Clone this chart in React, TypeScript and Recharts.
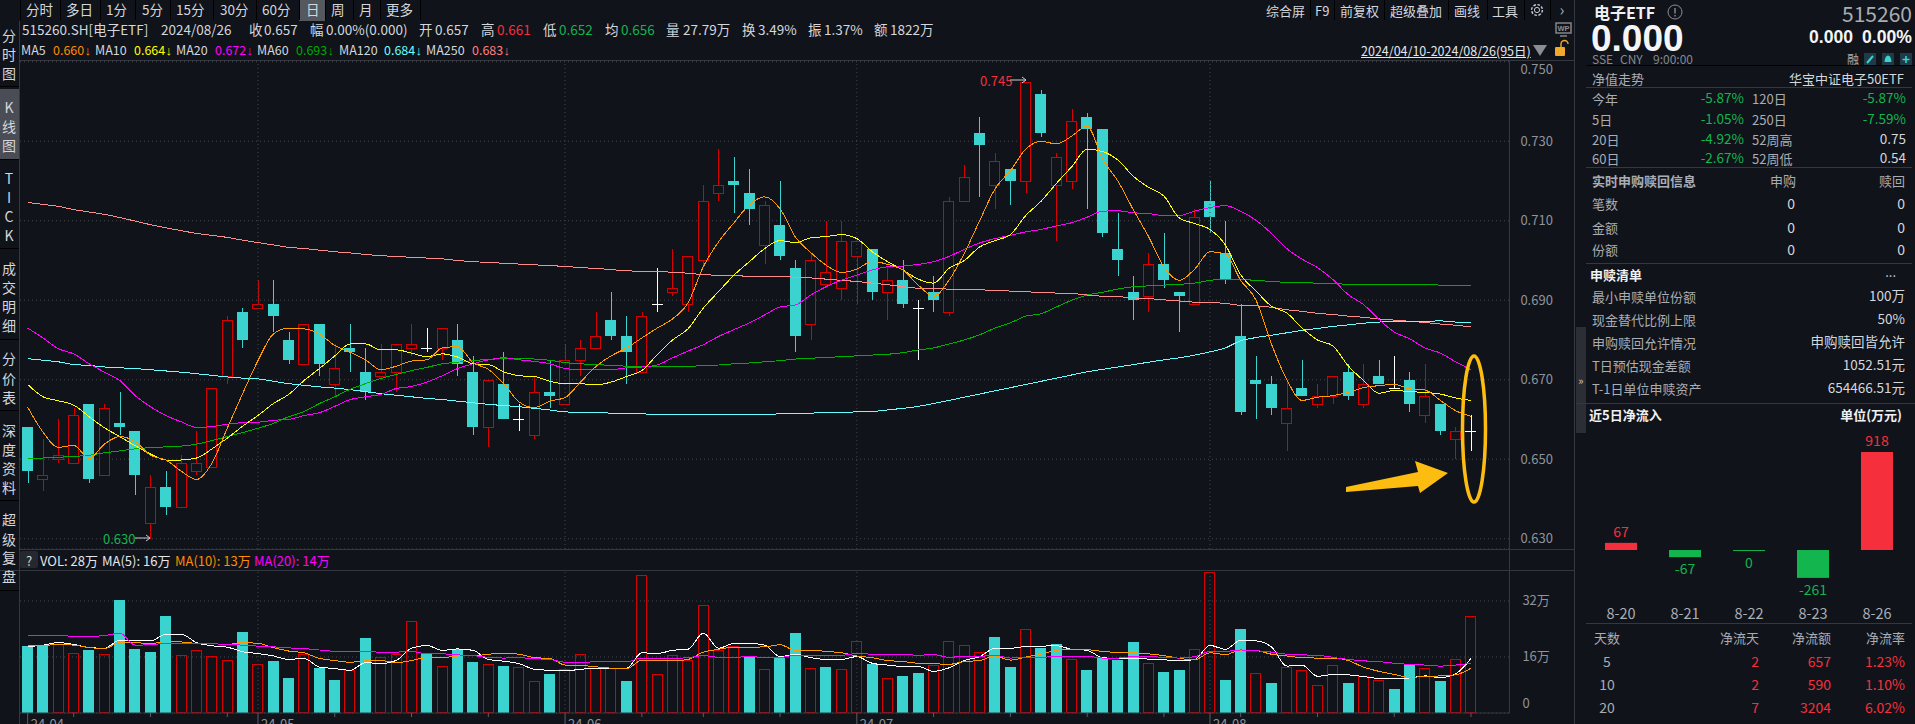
import React from 'react';
import { ComposedChart, BarChart, Bar, Line, XAxis, YAxis, CartesianGrid, ReferenceLine } from 'recharts';

const FONT = '"Noto Sans CJK SC", "Noto Sans", sans-serif';
const BG = '#10131a';
const LINE = '#34373d';
const RED = '#d60000';
const CYAN = '#3ad3d0';
const UP = '#f5303c';
const DOWN = '#12b54e';

// prices in 1/1000 yuan
const opens = [658,645,650,649,664,646,659,657,634,643,638,647,648,671,687,688,689,680,674,684,669,678,672,671,672,678,678,678,680,672,658,669,660,656,667,664,675,678,685,681,672,689,692,689,700,717,720,717,704,709,698,684,694,693,701,703,692,695,688,692,687,715,732,719,723,720,742,719,720,736,733,703,692,691,699,692,689,715,702,681,670,669,659,668,664,666,672,664,671,668,670,661,664,655,657];
const closes = [647,646,651,661,645,663,658,646,643,638,649,649,668,685,680,689,686,675,684,674,673,677,667,672,679,679,678,683,674,658,670,660,660,667,666,675,678,681,681,677,686,689,693,701,715,719,719,713,714,701,681,700,697,705,705,692,695,689,688,690,715,721,729,725,720,745,732,726,735,733,707,700,690,699,695,691,711,711,695,662,669,663,663,666,666,671,666,669,669,668,664,666,657,657,657];
const highs = [658,655,660,663,664,664,667,657,646,647,651,657,668,686,688,695,695,682,684,684,679,684,678,679,679,684,683,683,684,676,670,677,664,671,675,679,680,687,692,686,687,698,703,701,719,728,726,723,715,720,700,702,710,710,705,703,698,700,690,696,716,724,736,727,723,745,743,727,738,737,733,712,696,702,707,692,713,720,710,689,676,671,670,675,669,671,674,674,675,676,672,674,664,658,661];
const lows = [644,642,649,649,644,646,656,641,630,636,638,646,648,669,678,688,682,674,674,671,666,672,665,670,667,676,677,675,671,656,653,660,657,655,663,664,671,678,680,669,672,687,691,687,698,715,712,709,699,700,677,680,693,690,689,690,685,688,675,687,686,715,716,713,714,717,731,705,718,713,706,696,685,687,693,682,689,707,694,661,660,661,652,666,663,664,665,663,669,668,662,659,656,650,652];

const ma5 = [663.1,656.8,653,653.5,650.2,653.8,655.7,654.4,651,649.8,647,644.9,649,657.8,666.5,674.8,681.5,683,682.8,681.5,678.6,676.9,675,672.5,673.4,674.7,675,678,678.3,674.3,672.6,669,664.4,663,664.6,665.5,669.4,673.3,676,678,680.5,683,685.3,689.3,698.4,704.7,709.5,714,716,713,705.9,702,698.8,697,697.8,699.8,699,697.6,693.8,691,695,701.8,710,718,722.6,728,730,729.3,731.3,733.8,725.5,720,712.8,706,698.4,695,697.8,702.2,701.6,695,690,679,670,664.8,665.6,666,666.8,668,668.5,668.8,667.7,667.4,664.8,662.2,660.8];
const ma10 = [668.8,665.7,664.7,663.6,660.7,657.9,655.7,653.4,651.3,649.8,649.8,650.3,652.6,655.3,658.3,661,664,666.3,669.8,672.8,676,679,679,677.5,677.5,676.7,675.8,676.5,675.7,674,673.8,672,671,670.8,669.6,669,669,668.7,669.4,670.8,672.3,676.3,680,682.8,688,692.2,696.3,699.7,703,705,704.5,705.7,706,706.5,705.5,702.2,699.7,697.6,695.3,694.3,698,700,703.4,705,706.5,711.3,714.9,719.4,723.6,728,727.4,725.3,721.2,718.4,716.2,710.7,709.3,707.8,703.9,696.4,692.3,688.5,686.8,683,680,678.5,673.5,669.8,666.6,667.3,667,666.8,666.4,665.4,664.8];
const ma20 = [683,680.5,677.8,676.5,674,671.9,669.8,666,663.2,661,659.4,658,658.2,658.8,659.2,659.3,659.8,660,661,661.7,663.3,665,665.7,666.3,667.8,668.3,669.4,671,672.8,674,675,675.5,675,674.6,674,672.8,672.5,672.5,672.5,673,673.2,673.7,675.5,677.2,678.8,680.9,682.6,684.3,686.3,688.3,688.8,691.3,693.4,695,696.3,697.6,698.4,698.6,699,699.7,701,702.8,704.4,705.5,706.3,707.2,707.8,708.7,709.5,710.9,712.4,712.5,712,711.8,711.3,711.3,712.4,713.3,713.8,712.4,710.1,706.8,703,700.3,698.2,695.2,691.4,688.9,685.2,682,680.3,678,676.7,674.5,672.5];
const ma60 = [650.2,650.3,650.5,650.7,651,651.6,652.1,652.6,652.9,653.1,653.3,653.8,654.7,655.7,656.7,657.8,659,660.7,662,664,665.7,667.6,669,670.3,671.3,672.3,673.1,674,674.4,674.8,675.1,675.3,675.3,675.2,674.9,674.3,674,673.8,673.6,673.4,673.2,673.2,673.3,673.4,673.5,673.7,674,674.2,674.5,674.8,675.2,675.4,675.6,675.8,676,676.2,676.4,676.8,677.5,678,679,680,681.3,683,684.3,686,686.6,688.3,690,691.3,692,692.8,693.4,693.6,693.8,694,694.3,695,695.3,695.2,695,694.7,694.5,694.4,694.3,694.2,694,693.9,693.9,693.9,693.9,693.9,693.8,693.6,693.6];
const ma120 = [675.3,674.9,674.5,673.8,673.6,673.2,673,672.8,672.5,672.2,671.9,671.5,671.1,670.7,670.4,670.2,669.6,669,668.6,668.2,667.9,667.5,667,666.5,666.1,665.7,665.3,665,664.6,664.2,663.8,663.5,663.2,662.8,662.4,661.9,661.8,661.7,661.6,661.5,661.4,661.3,661.3,661.3,661.3,661.3,661.3,661.3,661.3,661.4,661.5,661.6,661.7,661.8,661.9,662,662.4,662.8,663.3,664,664.8,665.6,666.4,667.2,668,668.8,669.6,670.4,671.2,672,672.6,673.2,673.8,674.4,675,675.5,676.2,677,678,679.8,680.6,681.2,681.8,682.4,682.9,683.4,683.8,684.2,684.5,684.6,684.7,684.7,684.8,684.5,684.3];
const ma250 = [714.6,714.1,713.6,712.8,712.2,711.6,710.8,709.9,709,708.2,707.5,706.8,706.3,705.8,705.1,704.5,703.9,703.3,703,702.6,702.2,701.9,701.5,701.2,701,700.8,700.6,700.4,700,699.7,699.5,699.3,699.1,698.9,698.7,698.5,698.2,698,697.7,697.4,697.3,697.3,697,696.8,696.4,696.3,696.2,696,695.9,695.9,695.8,695.6,695.3,695,694.7,694.3,693.9,693.4,693,692.9,692.8,692.7,692.6,692.5,692.3,692.1,692,691.8,691.7,691.3,691,690.9,690.6,690.4,690.1,689.8,689.5,689.4,689.2,688.7,688.6,688.2,687.6,687.2,686.7,686.4,686,685.7,685.3,685,684.7,684.4,684,683.7,683.3];

// volume in 万
const vols = [19,19.1,19.6,17,18,16.8,32.3,18.3,17.4,27.7,16.5,17.9,16.2,15,23.1,13.9,14.9,10,16.8,12.9,9.4,12.2,21.4,15.9,16.8,26.2,17.1,13.3,18.3,14.6,13.9,13.4,13,9,11.1,12.5,16.8,12.8,12.9,9.1,39.3,11.2,16.5,15.2,30.8,18,19,16.1,12.5,15.8,22.9,12.8,13.1,12.5,20.5,14,9.9,10.6,11.4,13.6,20.5,19.3,17.3,21.7,13.1,23.9,18.6,19.7,15.3,12.3,15.6,15.1,20.3,14.2,11.7,12.3,18.2,40.2,9.4,24,11.3,8.6,13,12.2,7.9,13.6,8.6,10.5,9.3,6.9,13.7,12.8,9.1,15.3,27.8];
const volDirs = ('ccrrcrcccc' + 'rrrrcrccrc' + 'crcrrrcrcc' + 'rcrrcrrrrc' + 'rrrrrrrcrc' + 'crcrrcrccr' + 'rrrccrccrc' + 'cccrccrrcc' + 'rcrrrrcrrc' + 'crcrr').split('');
const volMa5 = [18.9,19.4,20.1,19.6,18.7,18.5,20.8,20.6,20.6,22.5,22.5,20.1,19.2,18.8,17.5,17,16.3,15.3,15.6,13.1,12.7,12.2,14.4,14.1,15,18.5,19.3,17.9,18.3,17.9,15.3,14.8,14.1,12.5,12.2,12,12.5,12.7,12.8,12.8,17.2,17,17.9,18.2,22.8,18.5,19.9,19.9,19.4,16.1,16.8,15.8,15.3,15.3,16.1,14.2,13.7,13.3,13.3,11.9,12.9,15,16.1,18.5,18.5,19,19.1,19.2,18.2,17.9,15.8,15.6,15.6,15.4,15.2,14.9,15.3,19.3,18.2,20.8,20.6,18.9,13.4,13.7,10.5,11,10.9,10.4,9.9,9.9,10,10.6,10.1,11.2,15.6];
const volMa10 = [19.3,19.3,19.6,19.4,18.7,18.4,20.1,20.1,19.8,20.4,20.3,19.9,19.8,19.6,20.1,19.9,18.7,17.7,17.2,15.6,15,14.5,14.9,15,14.4,15,15.8,15.8,16.3,16.3,16.8,17,16.8,15.8,15.6,13.7,13.6,13.2,12.8,12.6,15.1,14.9,14.9,15.3,17.4,18.2,18.8,18.8,18.9,19.5,17.9,17.9,17.6,17.2,16.3,15.8,15,14.7,14.2,14.1,13.9,14.7,15,16.3,15.1,16,16.8,17.9,18.2,18.1,17.6,17.3,17.2,16.9,16.4,15.6,15.2,17.2,16.7,17.9,17.8,16.8,16.3,15.8,15.7,15.7,15,13.1,11.9,11,10.2,10.4,10.6,10.9,12.8];
const volMa20 = [22.2,22.2,22.2,21.9,21.9,22.1,22.8,19.4,19.5,19.9,19.8,19.8,19.8,19.5,19.4,19.1,18.9,18.6,18.4,18,17.6,17.5,17.5,17.4,17.4,17.6,16.9,16.9,16.6,16.4,15.9,15.7,15.8,15.5,15.3,14.5,14.5,14.6,14.6,14.6,15.7,15.6,15.6,15.8,16.4,15.9,15.9,16.1,15.9,15.9,16.5,16.5,16.5,16.5,17,16.8,16.7,16.7,16.5,16.7,15.9,16.2,16.2,16.5,15.7,15.9,15.9,16.2,16.2,16.2,15.7,15.7,16.1,16.1,15.9,15.7,16.1,17.6,17.6,18,17.8,17.4,16.8,16.6,16.5,15.9,15.3,14.9,14.7,14.2,13.9,13.7,13.4,13.7,14.2];

const monthStarts = [0, 15, 35, 54, 77];
const monthLabels = ['24-04', '24-05', '24-06', '24-07', '24-08'];
const xTicks = [0, 3, 8, 13, 15, 20, 25, 30, 35, 40, 44, 49, 54, 59, 64, 69, 74, 77, 79, 84, 89, 94];
const priceTicks = [0.63, 0.65, 0.67, 0.69, 0.71, 0.73, 0.75];
const volTicks = [0, 16, 32];

const flowDates = ['8-20', '8-21', '8-22', '8-23', '8-26'];
const flowValues = [67, -67, 0, -261, 918];

const rows = opens.map((o, i) => ({
  i,
  open: o / 1000,
  close: closes[i] / 1000,
  high: highs[i] / 1000,
  low: lows[i] / 1000,
  range: [lows[i] / 1000, highs[i] / 1000],
  ma5: ma5[i] / 1000,
  ma10: ma10[i] / 1000,
  ma20: ma20[i] / 1000,
  ma60: ma60[i] / 1000,
  ma120: ma120[i] / 1000,
  ma250: ma250[i] / 1000,
  vol: vols[i],
  dir: volDirs[i],
  volMa5: volMa5[i],
  volMa10: volMa10[i],
  volMa20: volMa20[i],
}));
const flowRows = flowDates.map((d, i) => ({ d, v: flowValues[i] }));

const T = ({ x, y, c = '#c9cdd3', s = 13, a = 'left', b = false, f = FONT, children }: any) => (
  <div style={{
    position: 'absolute', top: y,
    left: a === 'left' ? x : a === 'center' ? 0 : undefined,
    right: a === 'right' ? 1915 - x : undefined,
    transform: a === 'center' ? `translate(calc(${x}px - 50%),-50%)` : 'translateY(-50%)', color: c, fontSize: s,
    fontWeight: b ? 700 : 400, whiteSpace: 'nowrap', lineHeight: 1, fontFamily: f,
  }}>{children}</div>
);

const Candle = (props: any) => {
  const { x, y, width, height, payload } = props;
  const { open, close, high, low } = payload;
  const py = (v: number) => y + ((high - v) / (high - low)) * height;
  const cx = Math.round(x + width / 2) + 0.5;
  const top = Math.round(py(Math.max(open, close)));
  const bot = Math.round(py(Math.min(open, close)));
  const l = Math.round(x);
  const wick = open === close ? '#ffffff' : close > open ? RED : CYAN;
  return (
    <g shapeRendering="crispEdges">
      <line x1={cx} x2={cx} y1={y} y2={top} stroke={wick} />
      <line x1={cx} x2={cx} y1={bot} y2={y + height} stroke={wick} />
      {open === close && <line x1={l} x2={l + 11} y1={top + 0.5} y2={top + 0.5} stroke="#fff" />}
      {close > open && <rect x={l + 0.5} y={top + 0.5} width={10} height={bot - top} fill={BG} stroke={RED} />}
      {close < open && <rect x={l} y={top} width={11} height={bot - top} fill={CYAN} />}
    </g>
  );
};

const VolBar = (props: any) => {
  const { x, y, width, height, payload } = props;
  const l = Math.round(x);
  if (payload.dir === 'r') {
    return <rect x={l + 0.5} y={Math.round(y) + 0.5} width={10} height={height - 1} fill="none" stroke={RED} shapeRendering="crispEdges" />;
  }
  return <rect x={l} y={y} width={11} height={height} fill={CYAN} shapeRendering="crispEdges" />;
};

const VolAxisTick = ({ x, y, payload }: any) => (
  <text x={x + 5} y={payload.value === 0 ? y - 5 : y + 4} fill="#8f949b" fontSize={13} fontFamily={FONT}>
    {payload.value === 0 ? '0' : `${payload.value}万`}
  </text>
);

const TimeTick = ({ x, y, payload }: any) => {
  const m = monthStarts.indexOf(payload.value);
  return (
    <g>
      <line x1={x} x2={x} y1={y} y2={m >= 0 ? y + 14 : y + 4} stroke="#5b5f66" />
      {m >= 0 && <text x={x + 3} y={y + 16} fill="#8f949b" fontSize={13} fontFamily={FONT}>{monthLabels[m]}</text>}
    </g>
  );
};

const FlowBar = (props: any) => {
  const { x, y, width, height, payload } = props;
  const v = payload.v;
  const top = Math.min(y, y + height);
  const h = Math.max(Math.abs(height), 1);
  const col = v > 0 ? UP : DOWN;
  const cx = x + width / 2;
  return (
    <g>
      <rect x={x} y={top} width={width} height={h} fill={col} />
      <text x={cx} y={v > 0 ? top - 6 : top + h + 17} fill={col} fontSize={14} textAnchor="middle" fontFamily={FONT}>{v}</text>
    </g>
  );
};

const PLOT_LEFT = 19.6;
const CHART_W = 1560;
const AXIS_W = CHART_W - (1509 - PLOT_LEFT);
const RIGHT_PAD = 30.7;

const tabs: [string, number][] = [['分时', 26], ['多日', 66], ['1分', 106], ['5分', 142], ['15分', 176], ['30分', 220], ['60分', 262], ['日', 306], ['周', 331], ['月', 359], ['更多', 386]];
const tools: [string, number][] = [['综合屏', 1266], ['F9', 1315], ['前复权', 1340], ['超级叠加', 1390], ['画线', 1454], ['工具', 1492]];
const nav: [string, number][] = [['分', 35], ['时', 54], ['图', 73], ['K', 107], ['线', 126], ['图', 145], ['T', 178], ['I', 197], ['C', 216], ['K', 235], ['成', 268], ['交', 287], ['明', 306], ['细', 325], ['分', 358], ['价', 378], ['表', 397], ['深', 430], ['度', 449], ['资', 468], ['料', 487], ['超', 519], ['级', 539], ['复', 557], ['盘', 576]];
const navLines = [86, 159, 248, 339, 410, 500, 590];
const info: [string, string, number][] = [['515260.SH[电子ETF]', '#d4d7dc', 22], ['2024/08/26', '#d4d7dc', 161], ['收', '#d4d7dc', 249], ['0.657', '#d4d7dc', 264], ['幅', '#d4d7dc', 310], ['0.00%(0.000)', '#d4d7dc', 326], ['开', '#d4d7dc', 419], ['0.657', '#d4d7dc', 435], ['高', '#d4d7dc', 481], ['0.661', UP, 497], ['低', '#d4d7dc', 543], ['0.652', DOWN, 559], ['均', '#d4d7dc', 605], ['0.656', DOWN, 621], ['量', '#d4d7dc', 666], ['27.79万', '#d4d7dc', 683], ['换', '#d4d7dc', 742], ['3.49%', '#d4d7dc', 758], ['振', '#d4d7dc', 808], ['1.37%', '#d4d7dc', 824], ['额', '#d4d7dc', 874], ['1822万', '#d4d7dc', 890]];
const maLegend: [string, string, number][] = [['MA5', '#d4d7dc', 21], ['0.660', '#ff8c00', 53], ['MA10', '#d4d7dc', 95], ['0.664', '#ffff00', 134], ['MA20', '#d4d7dc', 176], ['0.672', '#ff00ff', 215], ['MA60', '#d4d7dc', 257], ['0.693', '#00a800', 296], ['MA120', '#d4d7dc', 339], ['0.684', '#66ffff', 384], ['MA250', '#d4d7dc', 426], ['0.683', '#ff7f7f', 472]];
const navRows: [string, string, string, string, number][] = [['今年', '-5.87%', '120日', '-5.87%', 98], ['5日', '-1.05%', '250日', '-7.59%', 119], ['20日', '-4.92%', '52周高', '0.75', 139], ['60日', '-2.67%', '52周低', '0.54', 158]];
const subRows: [string, number][] = [['笔数', 203], ['金额', 227], ['份额', 249]];
const listRows: [string, string, number][] = [['最小申赎单位份额', '100万', 296], ['现金替代比例上限', '50%', 319], ['申购赎回允许情况', '申购赎回皆允许', 342], ['T日预估现金差额', '1052.51元', 365], ['T-1日单位申赎资产', '654466.51元', 388]];
const flowTable: [string, string, string, string, number][] = [['5', '2', '657', '1.23%', 661], ['10', '2', '590', '1.10%', 684], ['20', '7', '3204', '6.02%', 707]];

const HLine = ({ x1, x2, y, c = LINE }: any) => <div style={{ position: 'absolute', left: x1, width: x2 - x1, top: y, height: 1, background: c }} />;
const VLine = ({ x, y1, y2, c = LINE }: any) => <div style={{ position: 'absolute', left: x, top: y1, height: y2 - y1, width: 1, background: c }} />;

const crisp = { strokeWidth: 1, dot: false, type: 'monotone', isAnimationActive: false } as any;

export default function App() {
  return (
    <div style={{ position: 'fixed', left: 0, top: 0, width: 1915, height: 724, background: BG, overflow: 'hidden', fontFamily: FONT }}>
      <style>{'.recharts-line-curve{shape-rendering:crispEdges}'}</style>
      {/* price panel */}
      <div style={{ position: 'absolute', left: PLOT_LEFT, top: 61 }}>
        <ComposedChart width={CHART_W} height={488} data={rows} margin={{ top: 0, right: 0, bottom: 0, left: 0 }}>
          <CartesianGrid horizontal vertical={false} stroke="#44474e" strokeDasharray="1 3" />
          <XAxis dataKey="i" type="category" hide padding={{ left: 0, right: RIGHT_PAD }} />
          <YAxis orientation="right" width={AXIS_W} domain={[0.62741, 0.75018]} ticks={priceTicks} allowDataOverflow
            tickFormatter={(v: number) => v.toFixed(3)} tick={{ fill: '#8f949b', fontSize: 13, fontFamily: FONT }}
            tickLine={false} tickMargin={5} axisLine={{ stroke: LINE }} />
          {monthStarts.slice(1).map((m) => <ReferenceLine key={m} x={m} stroke="#44474e" strokeDasharray="1 3" />)}
          <Bar dataKey="range" barSize={11} shape={Candle} isAnimationActive={false} />
          <Line dataKey="ma250" stroke="#ff8a8a" {...crisp} />
          <Line dataKey="ma120" stroke="#66ffff" {...crisp} />
          <Line dataKey="ma60" stroke="#00b000" {...crisp} />
          <Line dataKey="ma20" stroke="#ff00ff" {...crisp} />
          <Line dataKey="ma10" stroke="#ffff00" {...crisp} />
          <Line dataKey="ma5" stroke="#ff9a00" {...crisp} />
        </ComposedChart>
      </div>
      {/* volume panel */}
      <div style={{ position: 'absolute', left: PLOT_LEFT, top: 570.5 }}>
        <ComposedChart width={CHART_W} height={153.5} data={rows} margin={{ top: 0, right: 0, bottom: 0, left: 0 }}>
          <CartesianGrid horizontal vertical={false} stroke="#44474e" strokeDasharray="1 3" syncWithTicks />
          <XAxis dataKey="i" type="category" height={11.5} ticks={xTicks} interval={0} padding={{ left: 0, right: RIGHT_PAD }}
            tick={TimeTick} tickLine={false} tickSize={0} tickMargin={0} axisLine={{ stroke: LINE }} />
          <YAxis orientation="right" width={AXIS_W} domain={[0, 40.57]} ticks={volTicks} allowDataOverflow
            tick={VolAxisTick} tickLine={false} axisLine={{ stroke: LINE }} />
          {monthStarts.slice(1).map((m) => <ReferenceLine key={m} x={m} stroke="#44474e" strokeDasharray="1 3" />)}
          <Bar dataKey="vol" barSize={11} shape={VolBar} isAnimationActive={false} />
          <Line dataKey="volMa5" stroke="#ffffff" {...crisp} />
          <Line dataKey="volMa10" stroke="#ff9a00" {...crisp} />
          <Line dataKey="volMa20" stroke="#ff00ff" {...crisp} />
        </ComposedChart>
      </div>

      {/* frame */}
      <HLine x1={19} x2={1575} y={60} />
      <HLine x1={19} x2={1575} y={549} />
      <HLine x1={0} x2={1575} y={570} />
      <VLine x={19} y1={21} y2={724} />
      <VLine x={1574} y1={0} y2={724} />
      <VLine x={1509} y1={60} y2={713} />

      {/* toolbar */}
      <div style={{ position: 'absolute', left: 299, top: 0, width: 26, height: 21, background: '#55585f' }} />
      {tabs.map(([t, x]) => <T key={t} x={x} y={10} s={13.5} c="#d4d7dc">{t}</T>)}
      {tools.map(([t, x]) => <T key={t} x={x} y={10} s={13} c="#d4d7dc">{t}</T>)}
      {[20, 60, 100, 135, 170, 213, 256, 299, 325, 353, 380, 420, 1310, 1334, 1384, 1448, 1487, 1524, 1550].map((x) => <VLine key={x} x={x} y1={0} y2={20} c="#000" />)}
      <T x={1562} y={9} s={16} a="center" c="#aaa">›</T>
      <svg style={{ position: 'absolute', left: 1530, top: 3, width: 14, height: 14 }} viewBox="0 0 14 14">
        <circle cx="7" cy="7" r="2.6" fill="none" stroke="#c9cdd3" />
        <circle cx="7" cy="7" r="5.4" fill="none" stroke="#c9cdd3" strokeDasharray="2.6 1.6" strokeWidth="1.4" />
      </svg>

      {info.map(([t, c, x], i) => <T key={i} x={x} y={30} s={13.5} c={c}>{t}</T>)}
      {maLegend.map(([t, c, x], i) => <T key={i} x={x} y={50} s={12.5} c={c}>{t}</T>)}
      {maLegend.filter((_, i) => i % 2 === 1).map(([t, c, x], i) => <T key={i} x={x + 31.5} y={50} s={13} c={c} f="Liberation Sans">↓</T>)}
      <div style={{ position: 'absolute', left: 1361, top: 43, fontSize: 12.5, color: '#e4e6ea', textDecoration: 'underline', whiteSpace: 'nowrap', lineHeight: '16px' }}>2024/04/10-2024/08/26(95日)</div>
      <svg style={{ position: 'absolute', left: 1530, top: 20, width: 45, height: 40 }} viewBox="0 0 45 40">
        <path d="M3 25 L17 25 L10 36 Z" fill="#8a8d93" />
        <rect x="25" y="27" width="10" height="9" rx="1" fill="#f0a92a" />
        <path d="M31 27 v-3 a3.5 3.5 0 0 1 7 0" fill="none" stroke="#f0a92a" strokeWidth="1.4" />
        <rect x="26" y="3" width="15" height="10" fill="none" stroke="#8a8d93" strokeWidth="1.4" />
        <text x="33.5" y="11" fontSize="7.5" fontWeight="700" fill="#8a8d93" textAnchor="middle" fontFamily="Liberation Sans">WP</text>
        <path d="M30 16 h7" stroke="#8a8d93" strokeWidth="1.4" />
      </svg>

      {/* left nav */}
      <div style={{ position: 'absolute', left: 0, top: 89, width: 19, height: 70, background: '#4a4d55' }} />
      {navLines.map((y) => <HLine key={y} x1={0} x2={19} y={y} c="#000" />)}
      {nav.map(([t, y], i) => <T key={i} x={9} y={y} s={14} a="center" c="#d4d7dc">{t}</T>)}

      {/* volume legend */}
      <div style={{ position: 'absolute', left: 20, top: 551, width: 18, height: 17, background: '#25282e', borderRadius: 2 }} />
      <T x={29} y={560} a="center" c="#d4d7dc">?</T>
      <T x={40} y={560} c="#e4e6ea">VOL: 28万</T>
      <T x={102} y={560} c="#e4e6ea">MA(5): 16万</T>
      <T x={175} y={560} c="#ff8c00">MA(10): 13万</T>
      <T x={254} y={560} c="#ff00ff">MA(20): 14万</T>

      {/* high / low labels and hand-drawn marks */}
      <T x={980} y={80} c={UP}>0.745</T>
      <T x={103} y={538} c={DOWN}>0.630</T>
      <svg style={{ position: 'absolute', left: 0, top: 0, width: 1915, height: 724, pointerEvents: 'none' }}>
        <path d="M1010 80 H1026 M1022 77 L1026 80 L1022 83" stroke="#c9cdd3" fill="none" />
        <path d="M135 538 H150 M146 535 L150 538 L146 541" stroke="#c9cdd3" fill="none" />
        <ellipse cx={1474} cy={429} rx={11.5} ry={73} fill="none" stroke="#fdbd10" strokeWidth={3.5} />
        <path d="M1346 487 L1418 472 L1415 461 L1448 473 L1420 493 L1418 486 L1346 492 Z" fill="#fdbd10" />
      </svg>

      {/* right panel */}
      <div style={{ position: 'absolute', left: 1576, top: 327, width: 10, height: 106, background: '#2b2e34' }} />
      <T x={1581} y={380} s={11} a="center" c="#c9cdd3">»</T>
      <T x={1594} y={12} s={16} b c="#f0f1f3">电子ETF</T>
      <svg style={{ position: 'absolute', left: 1667, top: 4, width: 16, height: 16 }} viewBox="0 0 16 16">
        <circle cx="8" cy="8" r="7" fill="none" stroke="#8a8d93" />
        <path d="M8 4 V9.5 M8 11 V12.5" stroke="#8a8d93" strokeWidth="1.4" />
      </svg>
      <T x={1912} y={13} s={21} a="right" c="#a9adb3">515260</T>
      <div style={{ position: 'absolute', left: 1591, top: 25, fontSize: 37, lineHeight: '27px', fontWeight: 700, color: '#f4f5f6', fontFamily: 'Liberation Sans' }}>0.000</div>
      <div style={{ position: 'absolute', left: 1809, top: 27, fontSize: 17.6, lineHeight: '20px', fontWeight: 700, color: '#f4f5f6', fontFamily: 'Liberation Sans' }}>0.000</div>
      <div style={{ position: 'absolute', left: 1862, top: 27, fontSize: 17.6, lineHeight: '20px', fontWeight: 700, color: '#f4f5f6', fontFamily: 'Liberation Sans' }}>0.00%</div>
      <T x={1592} y={59} s={12} c="#858a91">SSE</T>
      <T x={1620} y={59} s={12} c="#858a91">CNY</T>
      <T x={1653} y={59} s={12} c="#858a91">9:00:00</T>
      <T x={1847} y={59} s={12} c="#a9adb3">融</T>
      <svg style={{ position: 'absolute', left: 1864, top: 53, width: 48, height: 13 }} viewBox="0 0 48 13">
        <rect x="0" y="0" width="12" height="12" fill="#1e3b47" />
        <path d="M3 10 L9 3" stroke={CYAN} strokeWidth="2" />
        <rect x="18" y="0" width="12" height="12" fill="#1e3b47" />
        <path d="M20.5 9 Q21 2.5 24 2.5 Q27 2.5 27.5 9 Z" fill={CYAN} />
        <rect x="36" y="0" width="12" height="12" fill="#1e3b47" />
        <path d="M42 3 V10 M38.5 6.5 H45.5" stroke={CYAN} strokeWidth="1.6" />
      </svg>
      <HLine x1={1586} x2={1915} y={65} c="#000" />
      <T x={1592} y={78} c="#a9adb3">净值走势</T>
      <T x={1904} y={78} a="right" c="#d4d7dc">华宝中证电子50ETF</T>
      <HLine x1={1586} x2={1912} y={87} />
      {navRows.map(([a, b, c, d, y]) => (
        <React.Fragment key={a}>
          <T x={1592} y={y} c="#a9adb3">{a}</T>
          <T x={1744} y={y} s={13.5} a="right" c={DOWN}>{b}</T>
          <T x={1752} y={y} c="#a9adb3">{c}</T>
          <T x={1906} y={y} s={13.5} a="right" c={d.startsWith('-') ? DOWN : '#d4d7dc'}>{d}</T>
        </React.Fragment>
      ))}
      <HLine x1={1586} x2={1912} y={167} />
      <T x={1592} y={180} b c="#a9adb3">实时申购赎回信息</T>
      <T x={1796} y={180} a="right" c="#a9adb3">申购</T>
      <T x={1905} y={180} a="right" c="#a9adb3">赎回</T>
      {subRows.map(([t, y]) => (
        <React.Fragment key={t}>
          <T x={1592} y={y} c="#a9adb3">{t}</T>
          <T x={1795} y={y} s={14} a="right" c="#d4d7dc">0</T>
          <T x={1905} y={y} s={14} a="right" c="#d4d7dc">0</T>
        </React.Fragment>
      ))}
      <HLine x1={1586} x2={1912} y={263} />
      <T x={1590} y={274} b c="#f0f1f3">申赎清单</T>
      <T x={1896} y={271} a="right" c="#c9cdd3">...</T>
      {listRows.map(([a, b, y]) => (
        <React.Fragment key={a}>
          <T x={1592} y={y} c="#a9adb3">{a}</T>
          <T x={1905} y={y} s={13.5} a="right" c="#d4d7dc">{b}</T>
        </React.Fragment>
      ))}
      <HLine x1={1576} x2={1915} y={403} />
      <T x={1589} y={414} b c="#f0f1f3">近5日净流入</T>
      <T x={1902} y={414} a="right" b c="#f0f1f3">单位(万元)</T>
      <div style={{ position: 'absolute', left: 1589, top: 432 }}>
        <BarChart width={320} height={192} data={flowRows} margin={{ top: 0, right: 0, bottom: 0, left: 0 }}>
          <XAxis dataKey="d" height={24} axisLine={false} tickLine={false} interval={0} tickMargin={3}
            tick={{ fill: '#a9aeb5', fontSize: 14.5, fontFamily: FONT }} />
          <YAxis hide domain={[-468, 1105]} allowDataOverflow />
          <Bar dataKey="v" barSize={32} shape={FlowBar} isAnimationActive={false} />
        </BarChart>
      </div>
      <HLine x1={1586} x2={1912} y={623} />
      <T x={1594} y={637} c="#a9adb3">天数</T>
      <T x={1759} y={637} a="right" c="#a9adb3">净流天</T>
      <T x={1831} y={637} a="right" c="#a9adb3">净流额</T>
      <T x={1905} y={637} a="right" c="#a9adb3">净流率</T>
      {flowTable.map(([a, b, c, d, y]) => (
        <React.Fragment key={a}>
          <T x={1607} y={y} s={14} a="center" c="#a9adb3">{a}</T>
          <T x={1759} y={y} s={14} a="right" c={UP}>{b}</T>
          <T x={1831} y={y} s={14} a="right" c={UP}>{c}</T>
          <T x={1905} y={y} s={14} a="right" c={UP}>{d}</T>
        </React.Fragment>
      ))}
    </div>
  );
}
